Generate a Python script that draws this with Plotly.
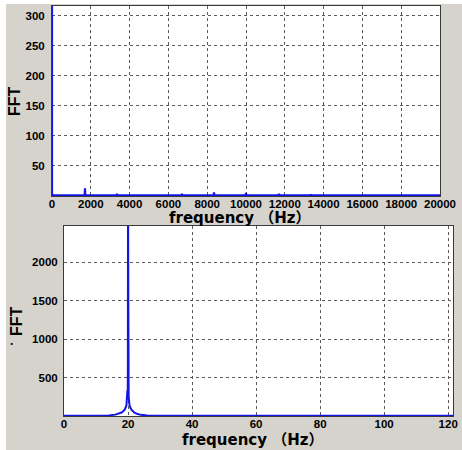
import plotly.graph_objects as go

W, H = 462, 450

# ---- top panel data (spectrum 0..20000 Hz) ----
top_peak_freq = [0, 1700, 3350, 6700, 8350, 10000, 11700, 13350, 15000, 16650]
top_peak_amp = [3000, 13, 4, 4, 6, 5, 4, 3, 2, 2]
top_base_amp = 1.0
top_xmax = 20000
top_ymax = 316
top_xticks = [0, 2000, 4000, 6000, 8000, 10000, 12000, 14000, 16000, 18000, 20000]
top_xticklabels = ["0", "2000", "4000", "6000", "8000", "10000", "12000", "14000",
                   "16000", "18000", "20000"]
top_yticks = [50, 100, 150, 200, 250, 300]

# ---- bottom panel data (spectrum 0..121 Hz) ----
bot_freq = [0, 10, 14, 16, 17, 18, 18.5, 19, 19.5, 19.8, 19.9, 19.95, 20.0, 20.05, 20.1, 20.2,
            20.5, 21, 21.5, 22, 23, 24, 26, 28, 40, 121.5]
bot_amp = [2, 3, 8, 18, 28, 45, 60, 85, 140, 330, 250, 600, 3000, 700, 1400, 250,
           130, 85, 60, 42, 25, 15, 8, 4, 2, 2]
bot_xmax = 121.5
bot_ymax = 2470
bot_xticks = [0, 20, 40, 60, 80, 100, 120]
bot_yticks = [500, 1000, 1500, 2000]

x_title = "frequency （Hz）"
y_title = "FFT"

# build top line through the peak list
tx, ty = [], []
for f, a in zip(top_peak_freq, top_peak_amp):
    if f > 0:
        tx += [f - 15, f, f + 15]
        ty += [top_base_amp, a, top_base_amp]
    else:
        tx += [f, f]
        ty += [a, top_base_amp]
tx.append(top_xmax)
ty.append(top_base_amp)

FONT = "Liberation Sans, Arial, Noto Sans CJK SC"
TFONT = "DejaVu Sans, Noto Sans CJK SC"
BLUE = "#1414e6"
GRID = "#5a5a5a"
FRAME = "#3a3a3a"
PANEL = "#d6d3cc"

fig = go.Figure()
fig.add_trace(go.Scatter(x=tx, y=ty, mode="lines", line=dict(color=BLUE, width=2.2),
                         xaxis="x", yaxis="y", showlegend=False))
fig.add_trace(go.Scatter(x=bot_freq, y=bot_amp, mode="lines", line=dict(color=BLUE, width=2),
                         xaxis="x2", yaxis="y2", showlegend=False))

def px_x(p):
    return p / W

def px_y(p):
    return 1 - p / H

axis_common = dict(showgrid=True, gridcolor=GRID, griddash="dot", gridwidth=1,
                   showline=True, linecolor=FRAME, linewidth=1, mirror=True,
                   zeroline=False, ticks="", automargin=False,
                   tickfont=dict(family=FONT, size=11.5, color="black", weight="bold"))

xtitle_font = dict(family=TFONT, size=15, color="black", weight="bold")
ytitle_font = dict(family=FONT, size=16, color="black", weight="bold")

fig.update_layout(
    width=W, height=H,
    margin=dict(l=0, r=0, t=0, b=0, autoexpand=False),
    paper_bgcolor=PANEL,
    plot_bgcolor="white",
    xaxis=dict(domain=[px_x(52), px_x(440)], anchor="y", range=[0, top_xmax],
               tickvals=top_xticks, ticktext=top_xticklabels, ticklabelstandoff=-3,
               **axis_common),
    yaxis=dict(domain=[px_y(196), px_y(6)], anchor="x", range=[0, top_ymax],
               tickvals=top_yticks, ticklabelstandoff=4,
               **axis_common),
    xaxis2=dict(domain=[px_x(64), px_x(453)], anchor="y2", range=[0, bot_xmax],
                tickvals=bot_xticks, ticklabelstandoff=-3,
                **axis_common),
    yaxis2=dict(domain=[px_y(416), px_y(226)], anchor="x2", range=[0, bot_ymax],
                tickvals=bot_yticks, ticklabelstandoff=3,
                **axis_common),
    shapes=[
        dict(type="rect", xref="paper", yref="paper", layer="above",
             x0=0, x1=px_x(6), y0=0, y1=1, fillcolor="white", line=dict(width=0)),
        dict(type="rect", xref="paper", yref="paper", layer="above",
             x0=0, x1=1, y0=px_y(4), y1=1, fillcolor="white", line=dict(width=0)),
    ],
    annotations=[
        dict(text=x_title, x=px_x(240), y=px_y(218), xref="paper", yref="paper",
             showarrow=False, font=xtitle_font, xanchor="center", yanchor="middle"),
        dict(text=x_title, x=px_x(253), y=px_y(440), xref="paper", yref="paper",
             showarrow=False, font=xtitle_font, xanchor="center", yanchor="middle"),
        dict(text=y_title, x=px_x(14), y=px_y(101), xref="paper", yref="paper",
             showarrow=False, font=ytitle_font, textangle=-90,
             xanchor="center", yanchor="middle"),
        dict(text=y_title, x=px_x(16), y=px_y(321), xref="paper", yref="paper",
             showarrow=False, font=ytitle_font, textangle=-90,
             xanchor="center", yanchor="middle"),
        dict(text="•", x=px_x(8), y=px_y(352), xref="paper", yref="paper",
             showarrow=False, font=dict(size=9, color="black")),
    ],
)

fig.write_html("out.html")
